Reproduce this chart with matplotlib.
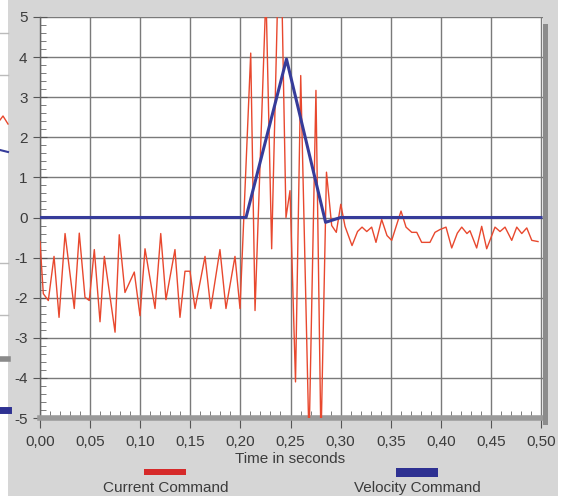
import numpy as np
import matplotlib
matplotlib.use("Agg")
import matplotlib.pyplot as plt
from matplotlib.patches import Rectangle
from matplotlib.lines import Line2D
from matplotlib.ticker import MultipleLocator, FuncFormatter

plt.rcParams['font.family'] = ['Liberation Sans', 'DejaVu Sans']

# Current Command trace (time in s, value)
t_current = [0.0000, 0.0033, 0.0083, 0.0140, 0.0190, 0.0250, 0.0342, 0.0392, 0.0449, 0.0492,
             0.0542, 0.0599, 0.0642, 0.0749, 0.0791, 0.0848, 0.0941, 0.0998, 0.1048, 0.1148,
             0.1205, 0.1257, 0.1347, 0.1397, 0.1447, 0.1497, 0.1547, 0.1647, 0.1704, 0.1796,
             0.1856, 0.1946, 0.1996, 0.2103, 0.2146, 0.2255, 0.2312, 0.2375, 0.2412, 0.2455,
             0.2495, 0.2550, 0.2602, 0.2685, 0.2754, 0.2804, 0.2859, 0.2911, 0.2957, 0.3002,
             0.3044, 0.3114, 0.3169, 0.3214, 0.3261, 0.3310, 0.3353, 0.3410, 0.3463, 0.3510,
             0.3603, 0.3653, 0.3710, 0.3760, 0.3809, 0.3892, 0.3942, 0.3992, 0.4052, 0.4109,
             0.4165, 0.4209, 0.4261, 0.4291, 0.4358, 0.4408, 0.4458, 0.4501, 0.4541, 0.4591,
             0.4641, 0.4708, 0.4758, 0.4808, 0.4858, 0.4908, 0.4970]
current = [-0.60, -1.90, -2.07, -0.97, -2.49, -0.40, -2.27, -0.39, -1.99, -2.07,
           -0.80, -2.60, -0.97, -2.86, -0.43, -1.87, -1.36, -2.45, -0.78, -2.27,
           -0.40, -2.05, -0.80, -2.49, -1.34, -1.34, -2.27, -0.97, -2.27, -0.80,
           -2.27, -0.97, -2.27, 4.10, -2.32, 5.60, -0.78, 5.80, 5.80, 0.00,
           0.67, -4.10, 3.54, -5.60, 3.17, -5.60, 1.13, -0.20, -0.37, 0.33,
           -0.22, -0.70, -0.35, -0.24, -0.35, -0.24, -0.62, -0.05, -0.45, -0.57,
           0.16, -0.24, -0.37, -0.37, -0.62, -0.62, -0.37, -0.30, -0.24, -0.76,
           -0.39, -0.24, -0.40, -0.33, -0.76, -0.22, -0.78, -0.50, -0.24, -0.35,
           -0.24, -0.57, -0.24, -0.40, -0.26, -0.57, -0.60]

# Velocity Command trace
t_velocity = [0.0, 0.2056, 0.246, 0.285, 0.300, 0.500]
velocity = [0.0, 0.0, 3.95, -0.12, 0.0, 0.0]

red = '#e8482e'
blue = '#363c9a'
txt = '#3c3c3c'

fig = plt.figure(figsize=(5.70, 4.96), dpi=100)
fig.patch.set_facecolor('white')
W, H = 570.0, 496.0

def fx(px):
    return px / W

def fy(py):
    return 1 - py / H

# grey window panel
fig.add_artist(Rectangle((fx(8), 0), fx(558) - fx(8), 1, transform=fig.transFigure,
                         facecolor='#d6d6d6', edgecolor='none', zorder=0))
# fragments of the window behind, on the left
for py, c, lw in [(33, '#bbbbbb', 1), (75, '#bbbbbb', 1), (263, '#bbbbbb', 1),
                  (315, '#bbbbbb', 1), (359, '#8a8a8a', 4), (410, '#2e3192', 5)]:
    fig.add_artist(Line2D([0, fx(8)], [fy(py), fy(py)], transform=fig.transFigure,
                          color=c, lw=lw, zorder=1))
fig.add_artist(Line2D([0, fx(3), fx(8)], [fy(120), fy(116), fy(124)], transform=fig.transFigure,
                      color=red, lw=1, zorder=1))
fig.add_artist(Line2D([0, fx(8)], [fy(150), fy(152)], transform=fig.transFigure,
                      color=blue, lw=1.5, zorder=1))
# shadow at right of plot area
fig.add_artist(Rectangle((fx(543), fy(425)), fx(5), fy(24) - fy(425), transform=fig.transFigure,
                         facecolor='#8c8c8c', edgecolor='none', zorder=1))

ax = fig.add_axes([fx(40), fy(418), fx(543) - fx(40), fy(17) - fy(418)])
ax.set_facecolor('white')
ax.set_xlim(0, 0.5 * (503 / 501))
ax.set_ylim(-5, 5)

ax.plot(t_current, current, color=red, lw=1.0, zorder=3)
ax.plot(t_velocity, velocity, color=blue, lw=2.2, zorder=4)

ax.xaxis.set_major_locator(MultipleLocator(0.05))
ax.xaxis.set_minor_locator(MultipleLocator(0.01))
ax.yaxis.set_major_locator(MultipleLocator(1))
ax.yaxis.set_minor_locator(MultipleLocator(0.2))
ax.xaxis.set_major_formatter(FuncFormatter(lambda v, p: f'{v:.2f}'.replace('.', ',')))
ax.yaxis.set_major_formatter(FuncFormatter(lambda v, p: f'{v:.0f}'))

ax.grid(True, which='major', color='#7a7a7a', lw=1.0, zorder=1)
ax.set_axisbelow(True)

ax.tick_params(axis='x', which='major', direction='out', length=7, color='#555555',
               labelsize=11, labelcolor=txt, pad=5)
ax.tick_params(axis='x', which='minor', direction='in', length=5, color='#666666')
ax.tick_params(axis='y', which='major', direction='inout', length=10, color='#555555',
               labelsize=11, labelcolor=txt, pad=4)
ax.tick_params(axis='y', which='minor', direction='in', length=4, color='#666666')

for s in ['top', 'right']:
    ax.spines[s].set_visible(False)
ax.spines['left'].set_color('#666666')
ax.spines['left'].set_linewidth(1.0)
ax.spines['bottom'].set_color('#9a9a9a')
ax.spines['bottom'].set_linewidth(4)

fig.text(fx(290), fy(459), 'Time in seconds', ha='center', va='center', fontsize=11, color=txt)

# legend
fig.add_artist(Rectangle((fx(144), fy(475)), fx(42), fy(469) - fy(475), transform=fig.transFigure,
                         facecolor='#d62a2a', edgecolor='none'))
fig.text(fx(166), fy(488), 'Current Command', ha='center', va='center', fontsize=11, color=txt)
fig.add_artist(Rectangle((fx(396), fy(477)), fx(42), fy(468) - fy(477), transform=fig.transFigure,
                         facecolor='#2e3192', edgecolor='none'))
fig.text(fx(417), fy(488), 'Velocity Command', ha='center', va='center', fontsize=11, color=txt)

fig.savefig('out.png', dpi=100)
